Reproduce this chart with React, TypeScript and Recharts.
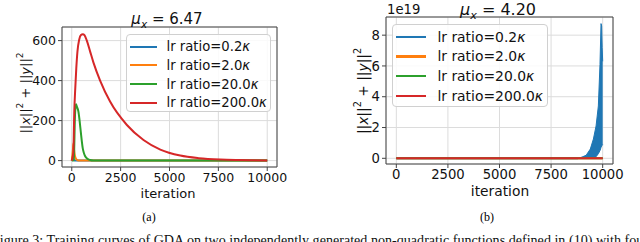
import React from 'react';
import {
  ComposedChart,
  Line,
  Area,
  XAxis,
  YAxis,
  CartesianGrid,
  ReferenceArea,
  Legend,
} from 'recharts';

// panel (a): ||x||^2 + ||y||^2 vs iteration, mu_x = 6.47
const A_BLUE_IT = [0, 30, 50, 80, 150, 250, 10000];
const A_BLUE_VAL = [0, 10, 20, 8, 1, 0, 0];
const A_ORANGE_IT = [0, 60, 85, 110, 150, 200, 260, 350, 500, 10000];
const A_ORANGE_VAL = [0, 55, 87, 60, 30, 12, 4, 0.5, 0, 0];
const A_GREEN_IT = [0, 110, 130, 150, 185, 220, 260, 340, 400, 460, 510, 560, 620, 680, 800, 940, 1100, 1400, 10000];
const A_GREEN_VAL = [0, 2, 80, 178, 262, 282, 270, 245, 200, 145, 100, 62, 38, 23, 9, 3, 0.5, 0, 0];
const A_RED_IT = [0, 80, 130, 170, 230, 290, 380, 470, 564, 650, 770, 940, 1110, 1450, 1960, 2820, 3670, 4530, 5550, 6500, 7600, 8500, 10000];
const A_RED_VAL = [0, 40, 250, 345, 460, 545, 605, 628, 632, 627, 600, 545, 490, 400, 295, 178, 103, 55, 25, 12, 5, 2.5, 0.8];

// panel (b): mu_x = 4.20, values in units of 1e19
const B_FLAT_IT = [0, 10000];
const B_FLAT_VAL = [0, 0];
const B_BLUE_IT = [0, 8800];
const B_BLUE_VAL = [0, 0];
const B_BAND_IT = [8800, 9000, 9200, 9400, 9550, 9680, 9790, 9870, 9920, 9950, 9975, 10000];
const B_BAND_LOW = [0, 0, 0, 0, 0, 0.1, 0.3, 0.5, 0.7, 0.8, 0.85, 0.9];
const B_BAND_HIGH = [0, 0.08, 0.2, 0.6, 1.25, 2.1, 3.4, 6.1, 8.75, 8.6, 7.2, 6.3];

const X_TICKS = [0, 2500, 5000, 7500, 10000];
const A_Y_TICKS = [0, 200, 400, 600];
const B_Y_TICKS = [0, 2, 4, 6, 8];
const LEGEND_LABELS = ['lr ratio=0.2', 'lr ratio=2.0', 'lr ratio=20.0', 'lr ratio=200.0'];
const COLORS = ['#1f77b4', '#ff7f0e', '#2ca02c', '#d62728'];

const FONT = '"DejaVu Sans", sans-serif';
const SERIF = '"Liberation Serif", "Times New Roman", serif';
const FRAME = '#444';

const zip = (its: number[], vals: number[]) => its.map((it, i) => ({ it, v: vals[i] }));

const aSeries = [
  zip(A_BLUE_IT, A_BLUE_VAL),
  zip(A_ORANGE_IT, A_ORANGE_VAL),
  zip(A_GREEN_IT, A_GREEN_VAL),
  zip(A_RED_IT, A_RED_VAL),
];
const bBand = B_BAND_IT.map((it, i) => ({ it, range: [B_BAND_LOW[i], B_BAND_HIGH[i]] }));

function LegendBox({ fontSize, rowGap, lineLen, w, h }: { fontSize: number; rowGap: number; lineLen: number; w: number; h: number }) {
  return (
    <div
      style={{
        width: w,
        height: h,
        boxSizing: 'border-box',
        border: '1px solid #d0d0d0',
        borderRadius: 4,
        background: 'rgba(255,255,255,0.85)',
        fontFamily: FONT,
        fontSize,
        color: '#111',
        position: 'relative',
      }}
    >
      {LEGEND_LABELS.map((lab, i) => (
        <div
          key={lab}
          style={{ position: 'absolute', left: 3, top: 11.4 + i * rowGap - 10, height: 20, display: 'flex', alignItems: 'center', whiteSpace: 'nowrap' }}
        >
          <span style={{ display: 'inline-block', width: lineLen, height: 2.2, background: COLORS[i], marginRight: lineLen * 0.37 }} />
          <span>
            {lab}
            <i>κ</i>
          </span>
        </div>
      ))}
    </div>
  );
}

function YLabel({ x, y, size }: { x: number; y: number; size: number }) {
  const s = size * 0.7;
  return (
    <text
      x={x}
      y={y}
      transform={`rotate(-90, ${x}, ${y})`}
      textAnchor="middle"
      dominantBaseline="central"
      fontFamily={FONT}
      fontSize={size}
      fill="#111"
    >
      ||<tspan fontStyle="italic">x</tspan>||
      <tspan dy={-size * 0.4} fontSize={s}>2</tspan>
      <tspan dy={size * 0.4}> + ||</tspan>
      <tspan fontStyle="italic">y</tspan>||
      <tspan dy={-size * 0.4} fontSize={s}>2</tspan>
    </text>
  );
}

function XLabel({ x, y, size }: { x: number; y: number; size: number }) {
  return (
    <text x={x} y={y} textAnchor="middle" dominantBaseline="central" fontFamily={FONT} fontSize={size} fill="#111">
      iteration
    </text>
  );
}

function Title({ cx, cy, size, value }: { cx: number; cy: number; size: number; value: string }) {
  return (
    <div
      style={{
        position: 'absolute',
        left: cx - 60,
        width: 120,
        top: cy - size * 0.65,
        textAlign: 'center',
        fontFamily: FONT,
        fontSize: size,
        lineHeight: 1.2,
        color: '#111',
        whiteSpace: 'nowrap',
      }}
    >
      <i>μ</i>
      <sub style={{ fontSize: size * 0.7, verticalAlign: 'baseline', position: 'relative', top: size * 0.25 }}>
        <i>x</i>
      </sub>
      {' = ' + value}
    </div>
  );
}

export default function App() {
  return (
    <div style={{ position: 'relative', width: 640, height: 242, overflow: 'hidden', background: '#fff' }}>
      <style>{'body{margin:0}'}</style>

      {/* panel (a) */}
      <div style={{ position: 'absolute', left: 0, top: 0 }}>
        <ComposedChart width={290} height={210} margin={{ top: 27, right: 13, left: 22, bottom: 13 }}>
          <CartesianGrid stroke="#dcdcdc" strokeWidth={1} />
          <XAxis
            dataKey="it"
            type="number"
            domain={[-500, 10500]}
            ticks={X_TICKS}
            allowDataOverflow
            height={30}
            axisLine={false}
            tickSize={4}
            tickLine={{ stroke: FRAME }}
            tick={{ fill: '#111', fontSize: 12.5, fontFamily: FONT }}
            label={{ content: () => <XLabel x={168} y={193} size={13} /> }}
          />
          <YAxis
            type="number"
            domain={[-32, 668]}
            ticks={A_Y_TICKS}
            allowDataOverflow
            width={40}
            axisLine={false}
            tickSize={4}
            tickLine={{ stroke: FRAME }}
            tick={{ fill: '#111', fontSize: 12.5, fontFamily: FONT }}
            label={{ content: () => <YLabel x={25} y={93} size={13} /> }}
          />
          {aSeries.map((d, i) => (
            <Line
              key={i}
              data={d}
              dataKey="v"
              type="monotone"
              stroke={COLORS[i]}
              strokeWidth={2}
              dot={false}
              isAnimationActive={false}
            />
          ))}
          <ReferenceArea x1={-500} x2={10500} y1={-32} y2={668} fill="none" stroke={FRAME} strokeWidth={1} ifOverflow="extendDomain" />
          <Legend
            layout="horizontal"
            verticalAlign="middle"
            align="center"
            wrapperStyle={{ position: 'absolute', left: 126, top: 34.3, width: 145, height: 78 }}
            content={() => <LegendBox fontSize={13.2} rowGap={18.7} lineLen={26.7} w={145} h={78} />}
          />
        </ComposedChart>
      </div>
      <Title cx={167} cy={20} size={15} value="6.47" />

      {/* panel (b) */}
      <div style={{ position: 'absolute', left: 330, top: 0 }}>
        <ComposedChart width={300} height={210} data={bBand} margin={{ top: 17, right: 17, left: 16, bottom: 16 }}>
          <CartesianGrid stroke="#dcdcdc" strokeWidth={1} />
          <XAxis
            dataKey="it"
            type="number"
            domain={[-500, 10500]}
            ticks={X_TICKS}
            allowDataOverflow
            height={30}
            axisLine={false}
            tickSize={4}
            tickLine={{ stroke: FRAME }}
            tick={{ fill: '#111', fontSize: 13.2, fontFamily: FONT }}
            label={{ content: () => <XLabel x={170} y={191} size={13.8} /> }}
          />
          <YAxis
            type="number"
            domain={[-0.37, 9.18]}
            ticks={B_Y_TICKS}
            allowDataOverflow
            width={40}
            axisLine={false}
            tickSize={4}
            tickLine={{ stroke: FRAME }}
            tick={{ fill: '#111', fontSize: 13.2, fontFamily: FONT }}
            label={{ content: () => <YLabel x={33} y={91} size={13.8} /> }}
          />
          <Line data={zip(B_BLUE_IT, B_BLUE_VAL)} dataKey="v" stroke={COLORS[0]} strokeWidth={2} dot={false} isAnimationActive={false} />
          <Area dataKey="range" type="linear" stroke={COLORS[0]} strokeWidth={1} fill={COLORS[0]} fillOpacity={1} isAnimationActive={false} />
          {[1, 2, 3].map((i) => (
            <Line
              key={i}
              data={zip(B_FLAT_IT, B_FLAT_VAL)}
              dataKey="v"
              stroke={COLORS[i]}
              strokeWidth={2}
              dot={false}
              isAnimationActive={false}
            />
          ))}
          <ReferenceArea x1={-500} x2={10500} y1={-0.37} y2={9.18} fill="none" stroke={FRAME} strokeWidth={1} ifOverflow="extendDomain" />
          <Legend
            layout="horizontal"
            verticalAlign="middle"
            align="center"
            wrapperStyle={{ position: 'absolute', left: 62.3, top: 24.3, width: 156, height: 82.4 }}
            content={() => <LegendBox fontSize={13.9} rowGap={19.8} lineLen={30} w={156} h={82.4} />}
          />
        </ComposedChart>
      </div>
      <div style={{ position: 'absolute', left: 387, top: 2, fontFamily: FONT, fontSize: 13.2, color: '#111' }}>1e19</div>
      <Title cx={498} cy={10} size={16} value="4.20" />

      {/* sub captions and figure caption */}
      <div style={{ position: 'absolute', left: 129, width: 40, top: 210, textAlign: 'center', fontFamily: SERIF, fontSize: 12 }}>(a)</div>
      <div style={{ position: 'absolute', left: 467, width: 40, top: 210, textAlign: 'center', fontFamily: SERIF, fontSize: 12 }}>(b)</div>
      <div
        style={{ position: 'absolute', left: -8, top: 232, fontFamily: SERIF, fontSize: 14.1, whiteSpace: 'nowrap', color: '#111' }}
      >
        Figure 3: Training curves of GDA on two independently generated non-quadratic functions defined in (10) with four
      </div>
    </div>
  );
}
